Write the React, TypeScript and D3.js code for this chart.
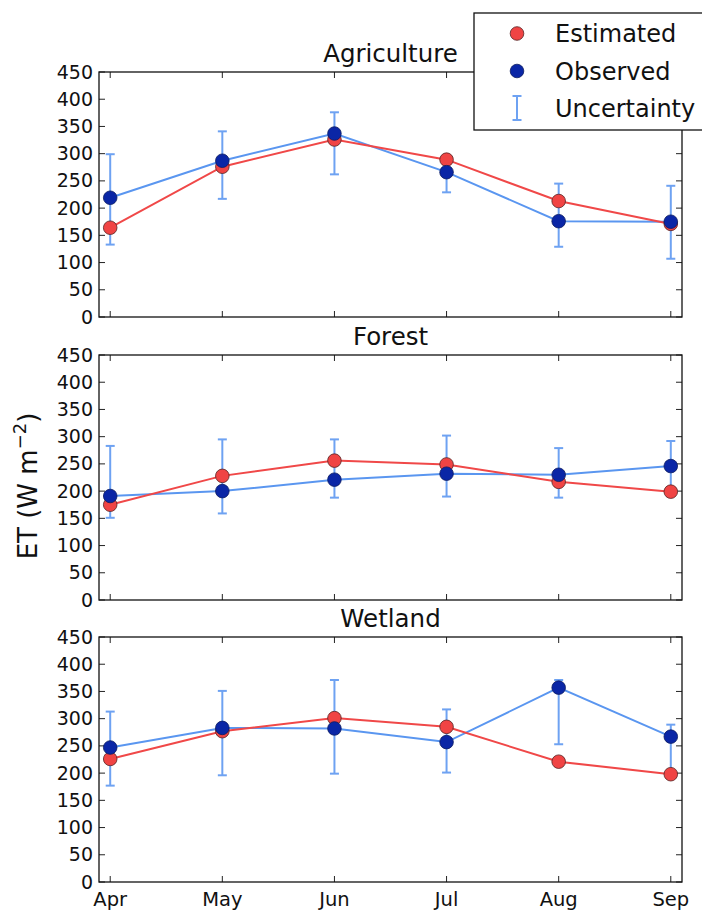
import React from "react";
import * as d3 from "d3";

const months = ["Apr", "May", "Jun", "Jul", "Aug", "Sep"];
const panelTitles = ["Agriculture", "Forest", "Wetland"];
const yTicks = [0, 50, 100, 150, 200, 250, 300, 350, 400, 450];

const agriEstimated = [164, 276, 326, 289, 213, 171];
const agriObserved = [219, 287, 337, 266, 176, 175];
const agriErrLow = [133, 217, 262, 229, 129, 107];
const agriErrHigh = [299, 341, 376, 290, 245, 241];

const forestEstimated = [175, 228, 256, 249, 217, 199];
const forestObserved = [191, 200, 221, 232, 230, 246];
const forestErrLow = [151, 159, 188, 190, 188, 205];
const forestErrHigh = [283, 295, 295, 302, 279, 292];

const wetEstimated = [226, 277, 301, 285, 221, 198];
const wetObserved = [247, 283, 282, 257, 357, 267];
const wetErrLow = [177, 196, 199, 201, 253, 200];
const wetErrHigh = [313, 351, 371, 317, 371, 289];

const panels = [
  { est: agriEstimated, obs: agriObserved, lo: agriErrLow, hi: agriErrHigh },
  { est: forestEstimated, obs: forestObserved, lo: forestErrLow, hi: forestErrHigh },
  { est: wetEstimated, obs: wetObserved, lo: wetErrLow, hi: wetErrHigh },
];

const W = 702;
const H = 910;
const left = 99;
const right = 682;
const panelTops = [72, 355, 637];
const panelH = 245;

const RED = "#f04444";
const RED_LINE = "#f04848";
const BLUE = "#0a26a6";
const BLUE_LINE = "#5a96f0";
const ERR = "#6ea2f2";
const FONT = "DejaVu Sans, sans-serif";

export default function App() {
  const x = d3.scaleLinear().domain([-0.1, 5.1]).range([left, right]);
  return (
    <svg width={W} height={H} style={{ position: "absolute", left: 0, top: 0, background: "#fff" }} fontFamily={FONT}>
      <rect x={0} y={0} width={W} height={H} fill="#fff" />
      {panels.map((p, pi) => {
        const top = panelTops[pi];
        const y = d3.scaleLinear().domain([0, 450]).range([top + panelH, top]);
        const line = d3
          .line<number>()
          .x((_, i) => x(i))
          .y((v) => y(v));
        return (
          <g key={pi}>
            <text x={(left + right) / 2} y={top - 10} textAnchor="middle" fontSize={24.5} fill="#111">
              {panelTitles[pi]}
            </text>
            {yTicks.map((t) => (
              <g key={t}>
                <line x1={left} x2={left + 6} y1={y(t)} y2={y(t)} stroke="#222" strokeWidth={1} />
                <line x1={right - 6} x2={right} y1={y(t)} y2={y(t)} stroke="#222" strokeWidth={1} />
                <text x={left - 6} y={y(t) + 6.5} textAnchor="end" fontSize={19} fill="#111">
                  {t}
                </text>
              </g>
            ))}
            {months.map((m, i) => (
              <g key={m}>
                <line x1={x(i)} x2={x(i)} y1={top + panelH} y2={top + panelH - 6} stroke="#222" strokeWidth={1} />
                <line x1={x(i)} x2={x(i)} y1={top} y2={top + 6} stroke="#222" strokeWidth={1} />
                {pi === 2 && (
                  <text x={x(i)} y={top + panelH + 24} textAnchor="middle" fontSize={19.5} fill="#111">
                    {m}
                  </text>
                )}
              </g>
            ))}
            {p.lo.map((lo, i) => (
              <g key={"e" + i} stroke={ERR} strokeWidth={2}>
                <line x1={x(i)} x2={x(i)} y1={y(lo)} y2={y(p.hi[i])} />
                <line x1={x(i) - 4.5} x2={x(i) + 4.5} y1={y(lo)} y2={y(lo)} />
                <line x1={x(i) - 4.5} x2={x(i) + 4.5} y1={y(p.hi[i])} y2={y(p.hi[i])} />
              </g>
            ))}
            <path d={line(p.obs) || ""} fill="none" stroke={BLUE_LINE} strokeWidth={2} />
            <path d={line(p.est) || ""} fill="none" stroke={RED_LINE} strokeWidth={2} />
            {p.est.map((v, i) => (
              <circle key={"r" + i} cx={x(i)} cy={y(v)} r={6.8} fill={RED} stroke="#552222" strokeWidth={0.8} />
            ))}
            {p.obs.map((v, i) => (
              <circle key={"b" + i} cx={x(i)} cy={y(v)} r={6.8} fill={BLUE} stroke="#0a1a60" strokeWidth={0.8} />
            ))}
            <rect x={left} y={top} width={right - left} height={panelH} fill="none" stroke="#111" strokeWidth={1.3} />
          </g>
        );
      })}
      <text
        transform={`translate(37, ${486}) rotate(-90)`}
        textAnchor="middle"
        fontSize={26}
        fill="#111"
      >
        ET (W m
        <tspan dy={-11} fontSize={18}>−2</tspan>
        <tspan dy={11}>)</tspan>
      </text>
      <g>
        <rect x={474} y={13} width={240} height={117} fill="#fff" stroke="#111" strokeWidth={1.3} />
        <circle cx={517} cy={33.5} r={6.8} fill={RED} stroke="#552222" strokeWidth={0.8} />
        <text x={555} y={42} fontSize={24} fill="#111">Estimated</text>
        <circle cx={517} cy={71} r={6.8} fill={BLUE} stroke="#0a1a60" strokeWidth={0.8} />
        <text x={555} y={79.5} fontSize={24} fill="#111">Observed</text>
        <g stroke={ERR} strokeWidth={2}>
          <line x1={517} x2={517} y1={96} y2={120} />
          <line x1={512.5} x2={521.5} y1={96} y2={96} />
          <line x1={512.5} x2={521.5} y1={120} y2={120} />
        </g>
        <text x={555} y={116.5} fontSize={24} fill="#111">Uncertainty</text>
      </g>
    </svg>
  );
}
